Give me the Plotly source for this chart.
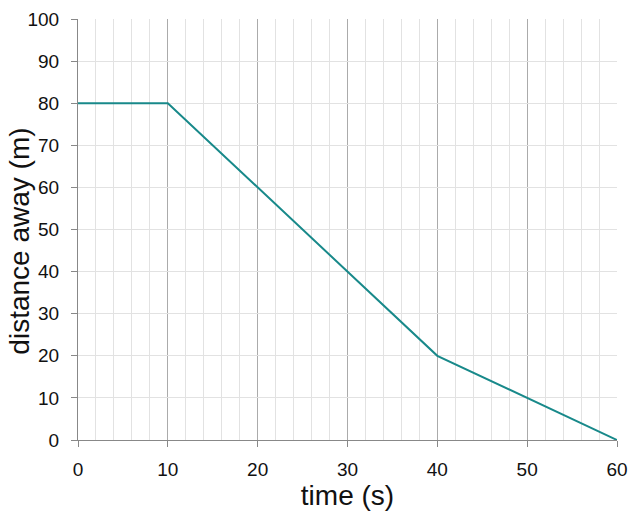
import plotly.graph_objects as go

time_s = [0, 10, 40, 60]
distance_m = [80, 80, 20, 0]

x_ticks = [0, 10, 20, 30, 40, 50, 60]
y_ticks = [0, 10, 20, 30, 40, 50, 60, 70, 80, 90, 100]

font_family = "Liberation Sans, Arial, sans-serif"

fig = go.Figure()
fig.add_trace(go.Scatter(
    x=time_s, y=distance_m, mode="lines",
    line=dict(color="#18898a", width=2),
    showlegend=False, hoverinfo="skip",
))

fig.update_layout(
    width=640, height=519,
    margin=dict(l=78, r=23, t=19, b=79),
    paper_bgcolor="white", plot_bgcolor="white",
    font=dict(family=font_family, size=19, color="#111111"),
    xaxis=dict(
        range=[0, 60], tickvals=x_ticks, ticktext=[str(v) for v in x_ticks],
        showgrid=True, gridcolor="#ababab", gridwidth=1,
        minor=dict(dtick=2, tick0=0, showgrid=True, gridcolor="#e2e2e2", gridwidth=1),
        ticks="outside", ticklen=6, tickcolor="#888888", tickwidth=1,
        showline=True, linecolor="#888888", linewidth=1,
        zeroline=False, automargin=False,
        tickfont=dict(size=19, family=font_family, color="#111111"),
        ticklabelstandoff=6,
        title=dict(text="time (s)", font=dict(size=28, family=font_family, color="#111111"), standoff=4),
    ),
    yaxis=dict(
        range=[0, 100], tickvals=y_ticks, ticktext=[str(v) for v in y_ticks],
        showgrid=True, gridcolor="#e2e2e2", gridwidth=1,
        ticks="outside", ticklen=6, tickcolor="#888888", tickwidth=1,
        showline=True, linecolor="#888888", linewidth=1,
        zeroline=False, automargin=False,
        tickfont=dict(size=19, family=font_family, color="#111111"),
        ticklabelstandoff=8,
    ),
    annotations=[dict(
        text="distance away (m)", textangle=-90,
        xref="paper", yref="paper", x=-0.108, y=0.473,
        xanchor="center", yanchor="middle", showarrow=False,
        font=dict(size=28, family=font_family, color="#111111"),
    )],
)

fig.write_html(
    "out.html",
    config={"displayModeBar": False},
    post_script="document.body.style.margin='0';document.body.style.padding='0';",
)
